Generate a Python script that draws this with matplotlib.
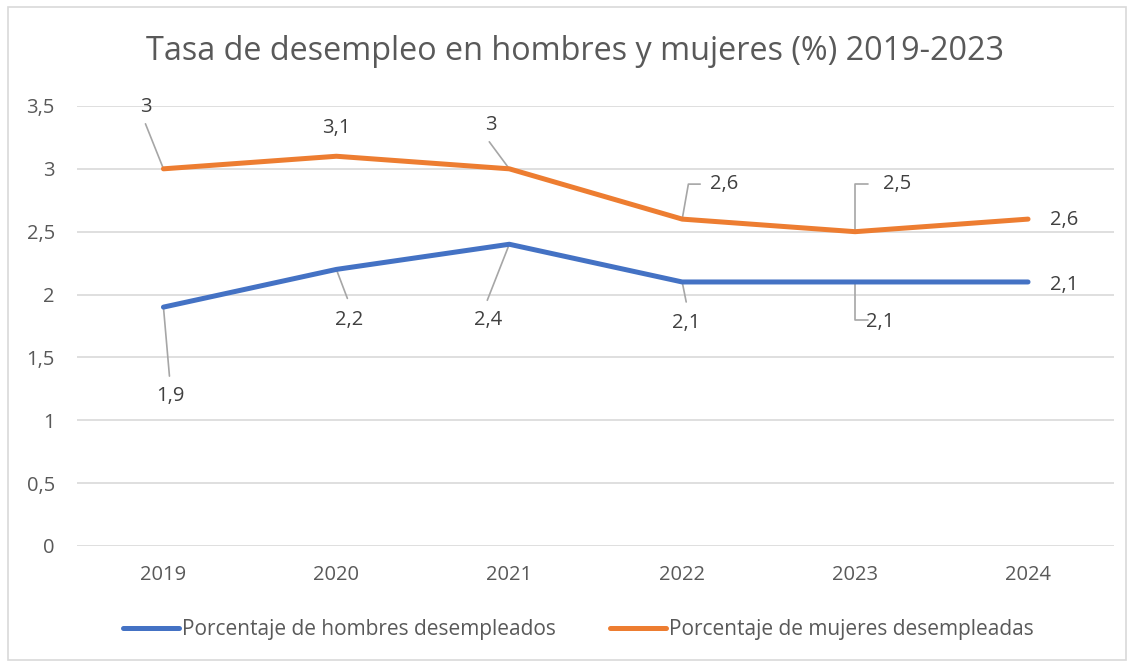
import matplotlib.pyplot as plt
from matplotlib.patches import Rectangle
from matplotlib.ticker import FuncFormatter

plt.rcParams['font.family'] = ['Open Sans', 'DejaVu Sans']

# Datos
years = ['2019', '2020', '2021', '2022', '2023', '2024']
hombres = [1.9, 2.2, 2.4, 2.1, 2.1, 2.1]
mujeres = [3.0, 3.1, 3.0, 2.6, 2.5, 2.6]
serie_h = 'Porcentaje de hombres desempleados'
serie_m = 'Porcentaje de mujeres desempleadas'
titulo = 'Tasa de desempleo en hombres y mujeres (%) 2019-2023'

# Posición de las etiquetas (pixeles respecto al punto) y de las líneas guía
off_m = [(-18, 62), (0, 28), (-18, 44), (42, 35), (42, 48), (36, -1)]
lead_m = [(-18, 45, 0), None, (-20, 27, 0), (18, 35, 80), (13, 48, 90), None]
off_h = [(7, -89), (13, -51), (-21, -76), (4, -41), (25, -40), (36, -3)]
lead_h = [(6, -69, 0), (11, -29, 0), (-22, -56, 0), (4, -20, 0), (13, -38, 90), None]

azul = '#4472C4'
naranja = '#ED7D31'
gris_txt = '#595959'
fs = 14.5

fig = plt.figure(figsize=(11.34, 6.66), dpi=100)
fig.patches.append(Rectangle((8 / 1134, 6 / 666), 1118 / 1134, 653 / 666, transform=fig.transFigure,
                             fill=False, edgecolor='#d9d9d9', lw=1.2))
ax = fig.add_axes([0.0679, 0.1802, 0.9149, 0.6607])

x = list(range(len(years)))
ax.plot(x, hombres, color=azul, lw=3.6, solid_capstyle='round', solid_joinstyle='round', label=serie_h, zorder=3)
ax.plot(x, mujeres, color=naranja, lw=3.6, solid_capstyle='round', solid_joinstyle='round', label=serie_m, zorder=3)

ax.set_xlim(-0.5, len(years) - 0.5)
ax.set_ylim(0, 3.5)
ax.set_yticks([0, 0.5, 1, 1.5, 2, 2.5, 3, 3.5])
ax.yaxis.set_major_formatter(FuncFormatter(lambda v, p: ('%g' % v).replace('.', ',')))
ax.set_xticks(x)
ax.set_xticklabels(years)
ax.grid(axis='y', color='#d9d9d9', lw=1.2)
ax.set_axisbelow(True)
for s in ax.spines.values():
    s.set_visible(False)
ax.tick_params(length=0, labelsize=fs, colors=gris_txt)
ax.tick_params(axis='y', pad=16)
ax.tick_params(axis='x', pad=14)


def etiquetas(valores, offs, leads):
    for i, v in enumerate(valores):
        dx, dy = offs[i]
        ax.annotate(('%g' % v).replace('.', ','), (i, v), xytext=(dx, dy), textcoords='offset pixels',
                    ha='center', va='center', fontsize=fs, color='#404040', zorder=4)
        if leads[i] is not None:
            lx, ly, ang = leads[i]
            if ang:
                cs = 'angle,angleA=0,angleB=%d,rad=0' % ang
            else:
                cs = 'arc3'
            ax.annotate('', (i, v), xytext=(lx, ly), textcoords='offset pixels',
                        arrowprops=dict(arrowstyle='-', color='#a6a6a6', lw=1.2,
                                        shrinkA=0, shrinkB=0, connectionstyle=cs), zorder=2)


etiquetas(mujeres, off_m, lead_m)
etiquetas(hombres, off_h, lead_h)

fig.text(0.507, 1 - 52 / 666, titulo, ha='center', va='center', fontsize=23.3, color=gris_txt)
fig.legend(loc='center', bbox_to_anchor=(0.51, 1 - 630 / 666), ncol=2, frameon=False,
           fontsize=15, labelcolor=gris_txt, handlelength=2.7, handletextpad=0.15, columnspacing=2.6)

fig.savefig('out.png', dpi=100)
